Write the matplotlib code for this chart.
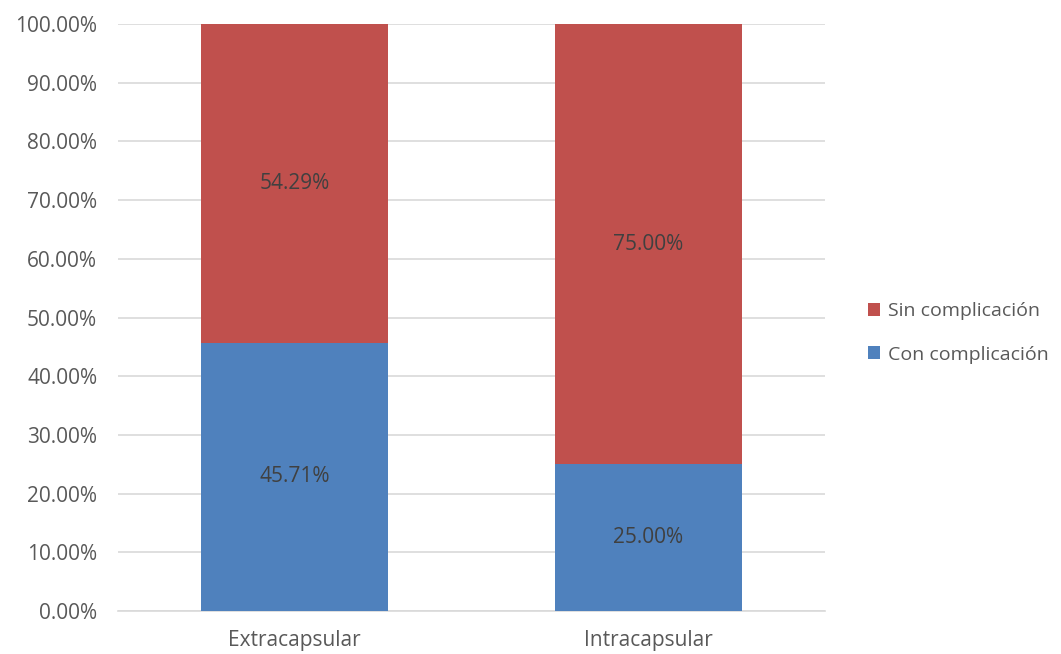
import matplotlib.pyplot as plt
from matplotlib.ticker import FuncFormatter

plt.rcParams['font.family'] = ['Open Sans', 'DejaVu Sans']

categories = ['Extracapsular', 'Intracapsular']
con_complicacion = [45.71, 25.00]
sin_complicacion = [54.29, 75.00]

BLUE = '#4F81BD'
RED = '#C0504D'
TEXT = '#595959'
GRID = '#D9D9D9'
FS = 15

fig = plt.figure(figsize=(10.61, 6.54), dpi=100)
ax = fig.add_axes([118 / 1061, 43 / 654, 707 / 1061, 587 / 654])

x = range(len(categories))
width = 0.528
b1 = ax.bar(x, con_complicacion, width, color=BLUE, label='Con complicación', zorder=3)
b2 = ax.bar(x, sin_complicacion, width, bottom=con_complicacion, color=RED,
            label='Sin complicación', zorder=3)

# value labels centred in each segment
for bars, vals, bottoms in [(b1, con_complicacion, [0, 0]), (b2, sin_complicacion, con_complicacion)]:
    for rect, v, b in zip(bars, vals, bottoms):
        ax.text(rect.get_x() + rect.get_width() / 2, b + v / 2, f'{v:.2f}%',
                ha='center', va='center', fontsize=FS, color='#404040', zorder=4)

ax.set_xlim(-0.5, 1.5)
ax.set_ylim(0, 100)
ax.set_yticks(range(0, 101, 10))
ax.yaxis.set_major_formatter(FuncFormatter(lambda v, p: f'{v:.2f}%'))
ax.set_xticks(list(x))
ax.set_xticklabels(categories)
ax.grid(axis='y', color=GRID, linewidth=1.2, zorder=0)
for side in ['top', 'right', 'left']:
    ax.spines[side].set_visible(False)
ax.spines['bottom'].set_color(GRID)
ax.spines['bottom'].set_linewidth(1.2)
ax.tick_params(axis='both', length=0, labelsize=FS, labelcolor=TEXT)
ax.tick_params(axis='y', pad=15)
ax.tick_params(axis='x', pad=14)

handles, labels = ax.get_legend_handles_labels()
fig.legend(handles[::-1], labels[::-1], loc='center left', bbox_to_anchor=(850 / 1061, 0.491),
           frameon=False, fontsize=14, labelcolor=TEXT, handlelength=0.65, handleheight=0.65,
           handletextpad=0.4, labelspacing=1.3)

fig.savefig('out.png', dpi=100)
